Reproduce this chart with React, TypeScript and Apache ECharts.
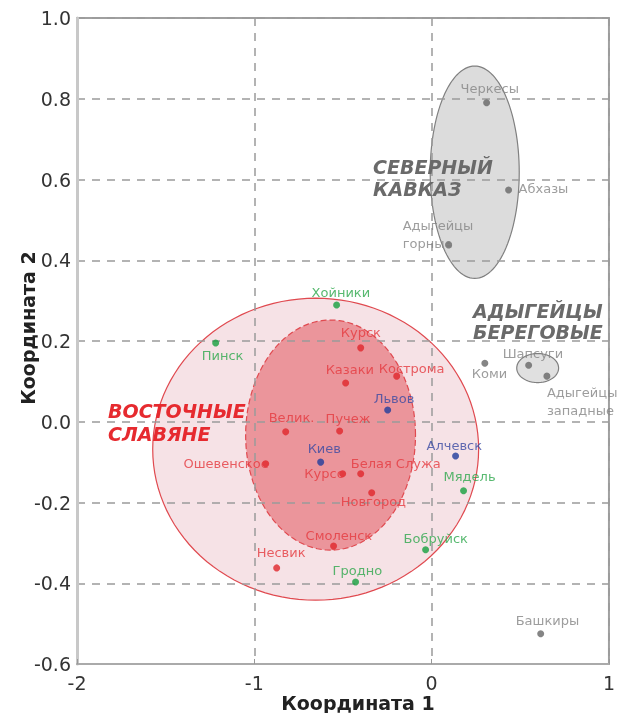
import React, { useEffect, useRef } from "react";
import * as echarts from "echarts";

// ---- data ----
const grayNames = ["Черкесы", "Абхазы", "Адыгейцы\nгорные", "Коми", "Шапсуги", "Адыгейцы\nзападные", "Башкиры"];
const grayX = [0.31, 0.434, 0.096, 0.3, 0.547, 0.65, 0.615];
const grayY = [0.79, 0.574, 0.438, 0.145, 0.14, 0.113, -0.525];

const redNames = ["Курск", "Казаки", "Кострома", "Велик.", "Пучеж", "Ошевенское", "Курсо", "Белая Служа", "Новгород", "Смоленск", "Несвик"];
const redX = [-0.4, -0.485, -0.197, -0.823, -0.519, -0.936, -0.502, -0.4, -0.338, -0.553, -0.874];
const redY = [0.183, 0.096, 0.113, -0.025, -0.023, -0.104, -0.129, -0.129, -0.176, -0.308, -0.362];

const blueNames = ["Львов", "Киев", "Алчевск"];
const blueX = [-0.248, -0.626, 0.135];
const blueY = [0.029, -0.1, -0.085];

const greenNames = ["Хойники", "Пинск", "Мядель", "Бобруйск", "Гродно"];
const greenX = [-0.536, -1.218, 0.18, -0.034, -0.429];
const greenY = [0.289, 0.195, -0.171, -0.317, -0.397];

// ellipses: centre x, centre y, radius x, radius y (data units)
const ellipseCx = [-0.654, -0.57, 0.243, 0.598];
const ellipseCy = [-0.068, -0.033, 0.618, 0.133];
const ellipseRx = [0.919, 0.479, 0.251, 0.118];
const ellipseRy = [0.374, 0.285, 0.263, 0.036];

const xTicks = [-2, -1, 0, 1];
const yTicks = [-0.6, -0.4, -0.2, 0.0, 0.2, 0.4, 0.6, 0.8, 1.0];

// ---- styles (label placement offsets relative to dot) ----
const labelPlace: Record<string, [number, number, string]> = {
  "Черкесы": [-26, -14, "left"],
  "Абхазы": [10, -1, "left"],
  "Адыгейцы\nгорные": [-46, -10, "left"],
  "Коми": [-13, 10, "left"],
  "Шапсуги": [-26, -12, "left"],
  "Адыгейцы\nзападные": [0, 25, "left"],
  "Башкиры": [-25, -13, "left"],
  "Курск": [-20, -15, "left"],
  "Казаки": [-20, -13, "left"],
  "Кострома": [-18, -8, "left"],
  "Велик.": [-17, -14, "left"],
  "Пучеж": [-14, -13, "left"],
  "Ошевенское": [3, 0, "right"],
  "Курсо": [2, 0, "right"],
  "Белая Служа": [-10, -10, "left"],
  "Новгород": [-31, 9, "left"],
  "Смоленск": [-28, -11, "left"],
  "Несвик": [-20, -15, "left"],
  "Львов": [-14, -12, "left"],
  "Киев": [-13, -14, "left"],
  "Алчевск": [-29, -11, "left"],
  "Хойники": [-25, -13, "left"],
  "Пинск": [-14, 12, "left"],
  "Мядель": [-20, -14, "left"],
  "Бобруйск": [-22, -11, "left"],
  "Гродно": [-23, -12, "left"],
};

const ellipseStyles = [
  { fill: "#f6e2e6", stroke: "#e04a50", lineWidth: 1.2, lineDash: null as any },
  { fill: "#eb959b", stroke: "#e04a50", lineWidth: 1.2, lineDash: [6, 3] },
  { fill: "#dcdcdc", stroke: "#808080", lineWidth: 1.2, lineDash: null as any },
  { fill: "#e0e0e0", stroke: "#808080", lineWidth: 1.2, lineDash: null as any },
];

const FONT = '"DejaVu Sans", sans-serif';

function makeSeries(names: string[], xs: number[], ys: number[], dotColor: string, textColor: string) {
  return {
    type: "scatter",
    z: 5,
    symbol: "circle",
    symbolSize: 7,
    itemStyle: { color: dotColor },
    data: names.map((n, i) => {
      const p = labelPlace[n] || [8, 0, "left"];
      return {
        name: n,
        value: [xs[i], ys[i]],
        label: { offset: [p[0], p[1]], align: p[2] },
      };
    }),
    label: {
      show: true,
      position: "inside",
      formatter: "{b}",
      verticalAlign: "middle",
      color: textColor,
      fontSize: 13,
      lineHeight: 18,
      fontFamily: FONT,
    },
    emphasis: { disabled: true },
  };
}

export default function App() {
  const ref = useRef<HTMLDivElement>(null);
  useEffect(() => {
    if (!ref.current) return;
    const chart = echarts.init(ref.current, undefined, { renderer: "svg" });
    const ellipseData = ellipseCx.map((c, i) => [c, ellipseCy[i], ellipseRx[i], ellipseRy[i]]);
    const boldItalic = `italic bold 19px ${FONT}`;
    chart.setOption({
      animation: false,
      grid: {
        left: 77, right: 9, top: 18, bottom: 49,
        show: true, borderColor: "#a0a0a0", borderWidth: 2, backgroundColor: "transparent",
      },
      xAxis: {
        type: "value", min: xTicks[0], max: xTicks[xTicks.length - 1], interval: 1, z: 3,
        axisLine: { show: true, onZero: false, lineStyle: { color: "#aaaaaa", width: 2 } },
        axisTick: { show: true, inside: true, length: 5, lineStyle: { color: "#999" } },
        axisLabel: { color: "#333", fontSize: 19, fontFamily: FONT, margin: 9, formatter: (v: number) => String(v) },
        splitLine: { show: true, lineStyle: { color: "#9a9a9a", type: [8, 7], width: 1.5 } },
      },
      yAxis: {
        type: "value", min: yTicks[0], max: yTicks[yTicks.length - 1], interval: 0.2, z: 3,
        axisLine: { show: true, onZero: false, lineStyle: { color: "#c8c8c8", width: 3 } },
        axisTick: { show: false },
        axisLabel: { color: "#333", fontSize: 19, fontFamily: FONT, margin: 6, formatter: (v: number) => v.toFixed(1) },
        splitLine: { show: true, lineStyle: { color: "#9a9a9a", type: [8, 7], width: 1.5 } },
      },
      series: [
        {
          type: "custom",
          z: 1,
          silent: true,
          data: ellipseData,
          renderItem: (params: any, api: any) => {
            const cx = api.value(0), cy = api.value(1), rx = api.value(2), ry = api.value(3);
            const pts: number[][] = [];
            for (let k = 0; k <= 120; k++) {
              const a = (k / 120) * Math.PI * 2;
              pts.push(api.coord([cx + rx * Math.cos(a), cy + ry * Math.sin(a)]));
            }
            const s = ellipseStyles[params.dataIndex];
            return {
              type: "polygon",
              shape: { points: pts },
              style: { fill: s.fill, stroke: s.stroke, lineWidth: s.lineWidth, lineDash: s.lineDash || undefined },
            };
          },
        },
        makeSeries(grayNames, grayX, grayY, "#666666", "#858585"),
        makeSeries(redNames, redX, redY, "#e0262b", "#e5393f"),
        makeSeries(blueNames, blueX, blueY, "#1f3c9c", "#3a4aa3"),
        makeSeries(greenNames, greenX, greenY, "#17a03e", "#2ea84c"),
      ],
      graphic: [
        { type: "text", x: 373, y: 167, z: 10, style: { text: "СЕВЕРНЫЙ", font: boldItalic, fill: "#6a6a6a", verticalAlign: "middle" } },
        { type: "text", x: 373, y: 189, z: 10, style: { text: "КАВКАЗ", font: boldItalic, fill: "#6a6a6a", verticalAlign: "middle" } },
        { type: "text", x: 473, y: 311, z: 10, style: { text: "АДЫГЕЙЦЫ", font: boldItalic, fill: "#6a6a6a", verticalAlign: "middle" } },
        { type: "text", x: 473, y: 332, z: 10, style: { text: "БЕРЕГОВЫЕ", font: boldItalic, fill: "#6a6a6a", verticalAlign: "middle" } },
        { type: "text", x: 108, y: 411, z: 10, style: { text: "ВОСТОЧНЫЕ", font: boldItalic, fill: "#e62a2f", verticalAlign: "middle" } },
        { type: "text", x: 108, y: 434, z: 10, style: { text: "СЛАВЯНЕ", font: boldItalic, fill: "#e62a2f", verticalAlign: "middle" } },
        { type: "text", x: 358, y: 703, z: 10, style: { text: "Координата 1", font: `bold 19px ${FONT}`, fill: "#222", align: "center", verticalAlign: "middle" } },
        { type: "text", x: 28, y: 328, rotation: Math.PI / 2, z: 10, style: { text: "Координата 2", font: `bold 19px ${FONT}`, fill: "#222", align: "center", verticalAlign: "middle" } },
      ],
    });
    return () => chart.dispose();
  }, []);
  return <div ref={ref} style={{ position: "fixed", left: 0, top: 0, width: 618, height: 713 }} />;
}
